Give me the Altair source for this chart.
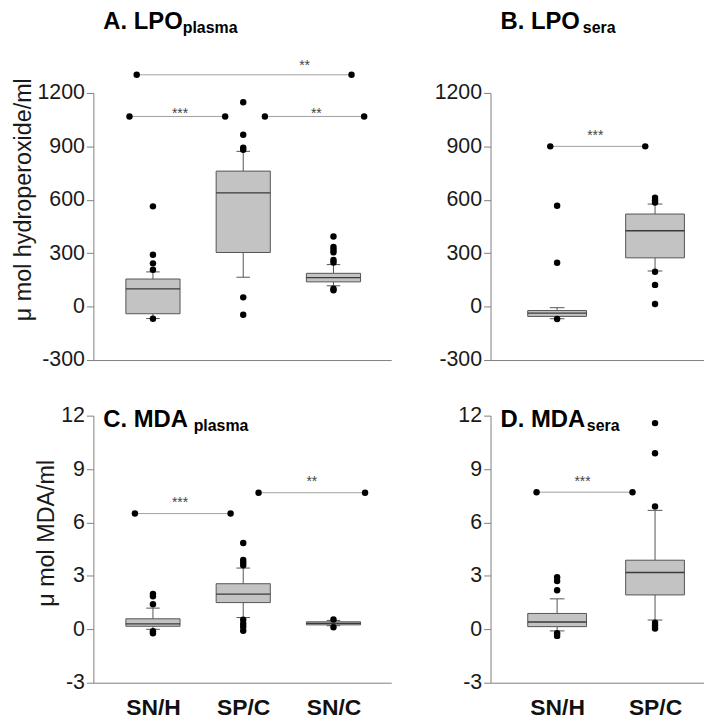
import altair as alt
import pandas as pd

FONT = "Liberation Sans, Arial, Helvetica, sans-serif"

groups = ["SN/H", "SP/C", "SN/C"]

# ---- A. LPO plasma ----
a_q1 = [-40, 304, 139]
a_med = [100, 639, 163]
a_q3 = [155, 761, 187]
a_wlo = [-67, 165, 117]
a_whi = [195, 872, 236]
a_out = [[563, 291, 243, 207, -68],
         [1148, 965, 893, 881, 52, -46],
         [394, 335, 320, 305, 262, 248, 100, 92]]
a_sig_x1 = [0.82, 0.74, 2.24]
a_sig_x2 = [3.20, 1.80, 3.34]
a_sig_y = [1302, 1068, 1068]
a_sig_txt = ["**", "***", "**"]
a_sig_tx = [2.68, 1.30, 2.81]
a_sig_ty = [1372, 1106, 1106]

# ---- B. LPO sera ----
b_q1 = [-55, 274]
b_med = [-37, 426]
b_q3 = [-22, 520]
b_wlo = [-68, 200]
b_whi = [-6, 576]
b_out = [[567, 246, -70],
         [611, 598, 585, 196, 122, 15]]
b_sig_x1 = [0.93]
b_sig_x2 = [1.90]
b_sig_y = [900]
b_sig_txt = ["***"]
b_sig_tx = [1.39]
b_sig_ty = [983]

# ---- C. MDA plasma ----
c_q1 = [0.17, 1.50, 0.25]
c_med = [0.31, 1.97, 0.33]
c_q3 = [0.59, 2.56, 0.42]
c_wlo = [0.0, 0.66, 0.2]
c_whi = [1.19, 3.44, 0.5]
c_out = [[1.99, 1.86, 1.41, -0.11, -0.22],
         [4.85, 3.90, 3.75, 3.60, 0.54, 0.31, 0.15, -0.08],
         [0.55, 0.12]]
c_sig_x1 = [0.80, 2.17]
c_sig_x2 = [1.86, 3.35]
c_sig_y = [6.5, 7.67]
c_sig_txt = ["***", "**"]
c_sig_tx = [1.30, 2.76]
c_sig_ty = [7.32, 8.49]

# ---- D. MDA sera ----
d_q1 = [0.15, 1.93]
d_med = [0.41, 3.19]
d_q3 = [0.89, 3.88]
d_wlo = [-0.09, 0.52]
d_whi = [1.71, 6.68]
d_out = [[2.93, 2.71, 2.19, -0.22, -0.37],
         [11.58, 9.89, 6.90, 0.37, 0.22, 0.04]]
d_sig_x1 = [0.79]
d_sig_x2 = [1.77]
d_sig_y = [7.7]
d_sig_txt = ["***"]
d_sig_tx = [1.26]
d_sig_ty = [8.52]

lpo_ticks = [-300, 0, 300, 600, 900, 1200]
mda_ticks = [-3, 0, 3, 6, 9, 12]

GRAY = "#808080"
BOXLINE = "#555555"
PLOT_H = 269


def panel(q1, med, q3, wlo, whi, outs, sx1, sx2, sy, stxt, stx, sty,
          xdom, width, ydom, yticks, ytitle, title_y, show_x,
          title, sub, sub_x, title_dy, sub_dy):
    n = len(q1)
    pos = list(range(1, n + 1))
    box = pd.DataFrame({"pos": pos, "group": groups[:n], "q1": q1, "med": med,
                        "q3": q3, "wlo": wlo, "whi": whi})
    orows = []
    for i, vals in enumerate(outs):
        for v in vals:
            orows.append({"pos": i + 1, "val": v})
    odf = pd.DataFrame(orows)
    sdf = pd.DataFrame({"x1": sx1, "x2": sx2, "y": sy, "txt": stxt, "tx": stx, "ty": sty})

    xscale = alt.Scale(domain=xdom, nice=False, zero=False)
    yscale = alt.Scale(domain=ydom, nice=False, zero=False)
    if show_x:
        expr = "[" + ",".join("'" + g + "'" for g in groups[:n]) + "][datum.value - 1]"
        xaxis = alt.Axis(values=pos, labelExpr=expr, title=None, grid=False, ticks=False,
                         labelFont=FONT, labelFontSize=23, labelFontWeight="bold",
                         labelColor="#111111", labelPadding=14, domainColor=GRAY)
    else:
        xaxis = alt.Axis(title=None, grid=False, ticks=False, labels=False, domainColor=GRAY)
    ykw = dict(values=yticks, labelExpr="'' + datum.value", grid=False, tickSize=7,
               tickColor=GRAY, domainColor=GRAY, labelFont=FONT, labelFontSize=21.5,
               labelColor="#1a1a1a", labelPadding=2)
    if ytitle:
        yaxis = alt.Axis(title=ytitle, titleFont=FONT, titleFontSize=23.5,
                         titleFontWeight="normal", titleColor="#1a1a1a", titlePadding=2,
                         titleY=title_y, **ykw)
    else:
        yaxis = alt.Axis(title=None, **ykw)

    def X(f):
        return alt.X(f, type="quantitative", scale=xscale, axis=xaxis)

    def Y(f):
        return alt.Y(f, type="quantitative", scale=yscale, axis=yaxis)

    base = alt.Chart(box).transform_calculate(
        left="datum.pos - 0.3", right="datum.pos + 0.3",
        cl="datum.pos - 0.075", cr="datum.pos + 0.075")

    w_lo = base.mark_rule(color=BOXLINE, strokeWidth=1).encode(x=X("pos"), y=Y("wlo"), y2="q1:Q")
    w_hi = base.mark_rule(color=BOXLINE, strokeWidth=1).encode(x=X("pos"), y=Y("q3"), y2="whi:Q")
    cap_lo = base.mark_rule(color=BOXLINE, strokeWidth=1).encode(x=X("cl"), x2="cr:Q", y=Y("wlo"))
    cap_hi = base.mark_rule(color=BOXLINE, strokeWidth=1).encode(x=X("cl"), x2="cr:Q", y=Y("whi"))
    rect = base.mark_rect(fill="#c3c3c3", stroke=BOXLINE, strokeWidth=1).encode(
        x=X("left"), x2="right:Q", y=Y("q1"), y2="q3:Q")
    medl = base.mark_rule(color="#3a3a3a", strokeWidth=1.3).encode(x=X("left"), x2="right:Q", y=Y("med"))
    pts = alt.Chart(odf).mark_circle(size=42, color="black", opacity=1).encode(x=X("pos"), y=Y("val"))

    sbase = alt.Chart(sdf)
    srule = sbase.mark_rule(color="#a0a0a0", strokeWidth=1, clip=False).encode(
        x=X("x1"), x2="x2:Q", y=Y("y"))
    sdots = sbase.transform_fold(["x1", "x2"], as_=["end", "xe"]).mark_circle(
        size=42, color="black", opacity=1, clip=False).encode(x=X("xe"), y=Y("y"))
    stext = sbase.mark_text(font=FONT, fontSize=14, color="#444444", baseline="middle",
                            align="center", dy=4, clip=False).encode(
        x=X("tx"), y=Y("ty"), text="txt:N")

    tdf = pd.DataFrame({"t": [title]})
    t1 = alt.Chart(tdf).mark_text(font=FONT, fontSize=24, fontWeight="bold", color="black",
                                  align="left", baseline="alphabetic").encode(
        x=alt.value(10), y=alt.value(title_dy), text="t:N")
    sdf2 = pd.DataFrame({"t": [sub]})
    t2 = alt.Chart(sdf2).mark_text(font=FONT, fontSize=16, fontWeight="bold", color="black",
                                   align="left", baseline="alphabetic").encode(
        x=alt.value(sub_x), y=alt.value(sub_dy), text="t:N")

    return alt.layer(w_lo, w_hi, cap_lo, cap_hi, rect, medl, pts, srule, sdots, stext, t1, t2
                     ).properties(width=width, height=PLOT_H)


A = panel(a_q1, a_med, a_q3, a_wlo, a_whi, a_out, a_sig_x1, a_sig_x2, a_sig_y, a_sig_txt,
          a_sig_tx, a_sig_ty, [0.34, 3.64], 300, [-300, 1200], lpo_ticks,
          "μ mol hydroperoxide/ml", 107, False, "A. LPO", "plasma", 90, -64, -60)
B = panel(b_q1, b_med, b_q3, b_wlo, b_whi, b_out, b_sig_x1, b_sig_x2, b_sig_y, b_sig_txt,
          b_sig_tx, b_sig_ty, [0.32, 2.50], 215, [-300, 1200], lpo_ticks,
          None, 0, False, "B. LPO", "sera", 93, -64, -60)
C = panel(c_q1, c_med, c_q3, c_wlo, c_whi, c_out, c_sig_x1, c_sig_x2, c_sig_y, c_sig_txt,
          c_sig_tx, c_sig_ty, [0.34, 3.64], 300, [-3, 12], mda_ticks,
          "μ mol MDA/ml", 118, True, "C. MDA", "plasma", 101, 11, 15)
D = panel(d_q1, d_med, d_q3, d_wlo, d_whi, d_out, d_sig_x1, d_sig_x2, d_sig_y, d_sig_txt,
          d_sig_tx, d_sig_ty, [0.32, 2.50], 215, [-3, 12], mda_ticks,
          None, 0, True, "D. MDA", "sera", 97, 11, 15)

chart = alt.concat(A, B, C, D, columns=2, spacing={"row": 56, "column": 100},
                   bounds="flush", align="each").properties(
    padding={"left": 3, "top": 0, "right": 0, "bottom": 0}).configure_view(stroke=None)

chart.save("out.html", embed_options={"renderer": "svg", "actions": False})
